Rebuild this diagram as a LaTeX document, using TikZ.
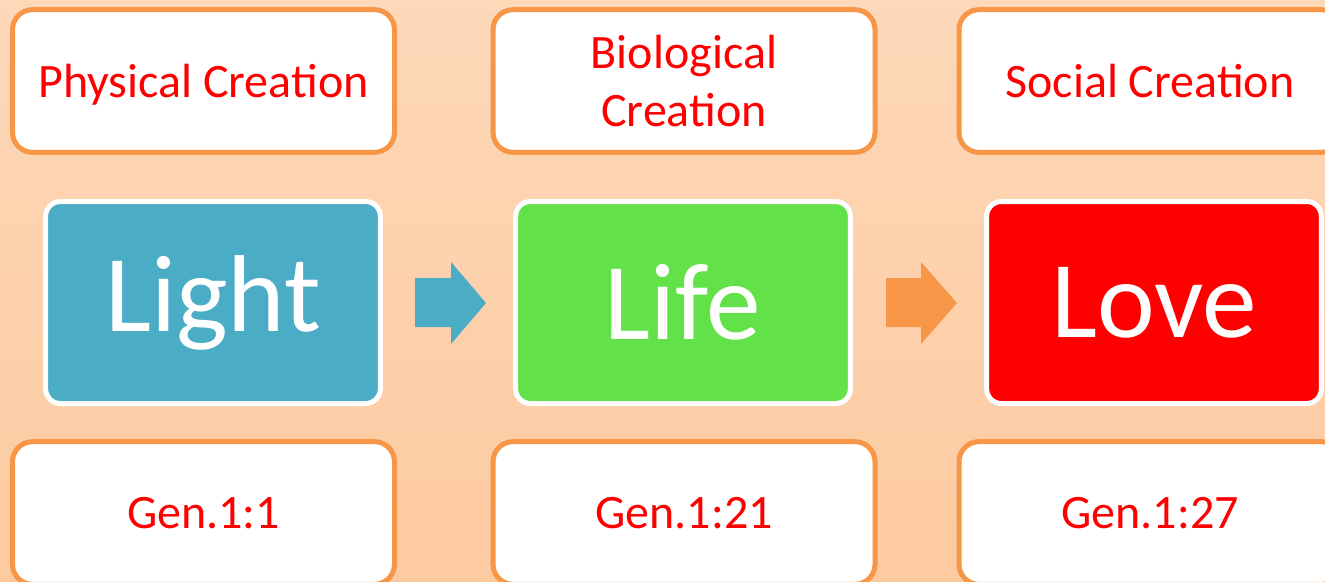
\documentclass[tikz,border=0pt]{standalone}
\usepackage{fontspec}
\setmainfont{Carlito}
\definecolor{bordorange}{RGB}{247,150,70}
\definecolor{lightblue}{RGB}{75,172,198}
\definecolor{lifegreen}{RGB}{98,226,72}
\definecolor{lovered}{RGB}{255,0,0}
\definecolor{bgtop}{RGB}{253,216,185}
\definecolor{bgbot}{RGB}{253,202,160}
\tikzset{
  labelbox/.style={draw=bordorange, fill=white, line width=3.75pt, rounded corners=15pt,
    minimum width=286.5pt, minimum height=107pt, inner sep=0pt, align=center,
    text=lovered, font=\fontsize{36}{44}\selectfont},
  wordbox/.style={draw=white, line width=3.75pt, rounded corners=11pt,
    minimum width=251pt, minimum height=151.5pt, inner sep=0pt,
    text=white, font=\fontsize{82}{90}\selectfont},
}
\begin{document}
\begin{tikzpicture}[x=0.75pt,y=-0.75pt]
            \shade[top color=bgtop, bottom color=bgbot] (0,0) rectangle (1325,582);
            \useasboundingbox (0,0) rectangle (1325,582);
            % top row
            \node[labelbox, text depth=0pt] (phys) at (203.5,81) {Physical Creation};
            \node[labelbox] (bio) at (684,81) {Biological\\Creation};
            \node[labelbox, text depth=0pt] (soc) at (1150,81) {Social Creation};
            % middle row
            \node[wordbox, fill=lightblue] (light) at (213,302.5) {Light};
            \node[wordbox, fill=lifegreen] (life) at (683,302.5) {Life};
            \node[wordbox, fill=lovered] (love) at (1154,302.5) {Love};
            % block arrows
            \fill[lightblue] (415,278)--(451,278)--(451,262)--(486,303)--(451,344)--(451,327)--(415,327)--cycle;
            \fill[bordorange] (886,278)--(921,278)--(921,262)--(957,303)--(921,344)--(921,327)--(886,327)--cycle;
            % bottom row
            \node[labelbox] (gena) at (203.5,513) {Gen.1:1};
            \node[labelbox] (genb) at (684,513) {Gen.1:21};
            \node[labelbox] (genc) at (1150,513) {Gen.1:27};
        \end{tikzpicture}
\end{document}
